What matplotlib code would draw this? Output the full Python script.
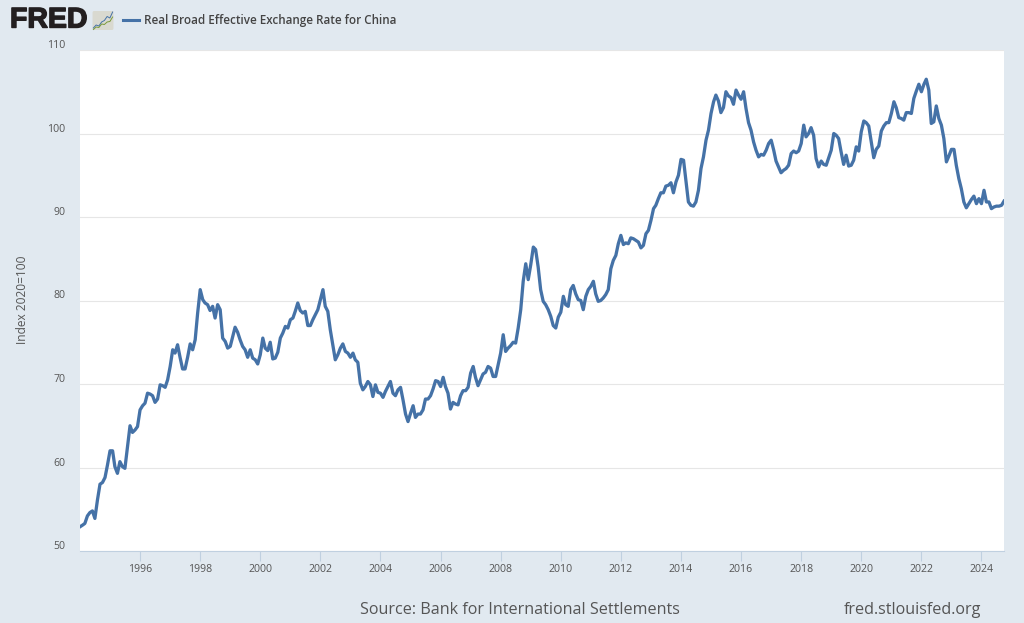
import matplotlib
matplotlib.use("Agg")
import matplotlib.pyplot as plt
import matplotlib.dates as mdates
import matplotlib.patheffects as pe
from matplotlib.patches import FancyBboxPatch
from matplotlib.transforms import ScaledTranslation
from matplotlib.lines import Line2D
import pandas as pd

plt.rcParams['font.family'] = ['Open Sans', 'DejaVu Sans']

START_MONTH = '1994-01-01'
values = [
    52.9, 53.1, 53.3, 54.2, 54.6, 54.8, 53.9, 56.1, 58.0, 58.2, 58.8, 60.3,
    62.0, 62.0, 60.1, 59.3, 60.7, 60.1, 59.9, 62.5, 65.0, 64.2, 64.5, 64.9,
    66.9, 67.4, 67.7, 68.9, 68.8, 68.6, 67.8, 68.2, 69.9, 69.8, 69.6, 70.5,
    72.1, 74.1, 73.7, 74.7, 73.2, 71.8, 71.8, 73.2, 74.8, 74.1, 75.3, 78.5,
    81.3, 80.1, 79.7, 79.5, 78.8, 79.3, 77.9, 79.5, 78.9, 75.5, 75.1, 74.3,
    74.5, 75.7, 76.8, 76.2, 75.3, 74.5, 74.1, 73.2, 74.1, 73.1, 72.9, 72.4,
    73.5, 75.5, 74.3, 74.0, 75.0, 73.0, 73.1, 73.8, 75.5, 76.1, 76.9, 76.7,
    77.7, 77.9, 78.7, 79.7, 78.8, 78.5, 78.7, 77.0, 77.0, 77.7, 78.3, 78.9,
    80.1, 81.3, 79.3, 78.7, 76.5, 74.7, 72.9, 73.5, 74.3, 74.8, 73.9, 73.7,
    73.2, 73.7, 72.9, 72.6, 70.1, 69.3, 69.7, 70.3, 69.9, 68.5, 69.9, 69.0,
    68.9, 68.4, 69.1, 69.7, 70.3, 68.9, 68.6, 69.3, 69.6, 68.1, 66.4, 65.5,
    66.5, 67.4, 66.0, 66.4, 66.4, 66.9, 68.2, 68.2, 68.6, 69.4, 70.4, 70.3,
    69.7, 70.8, 69.7, 68.9, 67.0, 67.8, 67.6, 67.5, 68.6, 69.2, 69.2, 69.6,
    71.3, 72.1, 70.8, 69.8, 70.5, 71.2, 71.4, 72.1, 71.9, 70.9, 70.9, 72.3,
    73.7, 75.9, 73.9, 74.3, 74.6, 75.0, 74.9, 76.7, 78.9, 82.3, 84.4, 82.5,
    84.3, 86.4, 86.1, 84.0, 81.3, 79.9, 79.5, 78.9, 78.1, 77.0, 76.7, 78.0,
    78.6, 80.5, 79.5, 79.3, 81.3, 81.8, 80.8, 80.1, 80.0, 78.9, 80.5, 81.3,
    81.7, 82.3, 80.8, 79.9, 80.0, 80.3, 80.7, 81.3, 83.8, 84.8, 85.4, 86.8,
    87.8, 86.7, 86.9, 86.8, 87.5, 87.4, 87.2, 87.0, 86.3, 86.6, 88.0, 88.4,
    89.6, 91.0, 91.4, 92.2, 92.9, 92.9, 93.7, 93.8, 94.1, 92.9, 94.2, 95.0,
    96.9, 96.8, 94.4, 91.8, 91.4, 91.3, 91.8, 93.2, 95.8, 97.2, 99.2, 100.4,
    102.4, 103.8, 104.6, 103.9, 102.5, 103.1, 105.0, 104.5, 104.3, 103.5, 105.2, 104.6,
    104.1, 105.0, 103.0, 101.3, 100.4, 99.0, 98.0, 97.2, 97.5, 97.4, 98.0, 98.8,
    99.2, 98.0, 96.7, 96.0, 95.3, 95.6, 95.8, 96.2, 97.6, 97.9, 97.7, 97.9,
    98.8, 101.0, 99.6, 100.0, 100.7, 99.8, 97.0, 96.0, 96.7, 96.3, 96.2, 97.1,
    98.0, 100.0, 99.8, 99.4, 97.8, 96.3, 97.4, 96.1, 96.2, 96.8, 98.4, 97.9,
    100.2, 101.5, 101.3, 100.9, 99.0, 97.1, 98.1, 98.5, 100.3, 100.9, 101.3, 101.3,
    102.4, 103.8, 103.1, 101.9, 101.8, 101.6, 102.5, 102.5, 102.4, 104.2, 105.1, 105.9,
    105.0, 105.9, 106.5, 105.2, 101.2, 101.4, 103.3, 101.8, 101.0, 99.4, 96.6, 97.3,
    98.1, 98.1, 96.2, 94.6, 93.4, 91.8, 91.1, 91.6, 92.1, 92.5, 91.6, 92.2,
    91.6, 93.2, 91.8, 91.8, 91.0, 91.2, 91.3, 91.3, 91.4, 91.9,
]
y_ticks = [50, 60, 70, 80, 90, 100, 110]
x_tick_years = list(range(1996, 2025, 2))
series_name = 'Real Broad Effective Exchange Rate for China'
y_label = 'Index 2020=100'
source_text = 'Source: Bank for International Settlements'
site_text = 'fred.stlouisfed.org'
logo_text = 'FRED'
logo_blue = [1.0, 2.2, 1.8, 3.4, 4.0, 5.6, 5.0, 7.4]
logo_green = [0.4, 1.4, 1.2, 2.6, 2.4, 3.4, 3.6, 5.4]

BG = '#e1e9f0'
LINE = '#4572a7'
TXT = '#555555'
W, H = 1024, 623

fig = plt.figure(figsize=(W / 100, H / 100), dpi=100, facecolor=BG)
ax = fig.add_axes([80 / W, (H - 551) / H, 924 / W, 501 / H], facecolor='white')

dates = pd.date_range(START_MONTH, periods=len(values), freq='MS')
ax.plot(dates, values, color=LINE, lw=2.35, solid_joinstyle='round', clip_on=True, zorder=3)
ax.set_xlim(dates[0], dates[-1])
ax.set_ylim(50, 110)

for s in ['top', 'right', 'left']:
    ax.spines[s].set_visible(False)
ax.spines['bottom'].set_color('#c0d0e0')
ax.spines['bottom'].set_linewidth(0.8)

ax.set_yticks(y_ticks)
ax.grid(axis='y', color='#e6e6e6', lw=0.8)
ax.set_axisbelow(True)
ax.tick_params(axis='y', length=0, pad=10.8, labelsize=7.6, labelcolor=TXT)
ax.set_xticks([pd.Timestamp(f'{y}-01-01') for y in x_tick_years])
ax.xaxis.set_major_formatter(mdates.DateFormatter('%Y'))
ax.tick_params(axis='x', length=7, width=0.8, color='#c0d0e0', pad=2.5, labelsize=7.6, labelcolor=TXT)

offset = ScaledTranslation(0, 6 / 100, fig.dpi_scale_trans)
for lab in ax.get_yticklabels():
    lab.set_transform(lab.get_transform() + offset)

fig.text(22.5 / W, 1 - 300 / H, y_label, rotation=90, ha='center', va='center', fontsize=8.6, color=TXT)
fig.text(360 / W, 1 - 610.5 / H, source_text, ha='left', va='center', fontsize=11.6, color=TXT)
fig.text(981 / W, 1 - 610.5 / H, site_text, ha='right', va='center', fontsize=11.6, color=TXT)

# header: logo and legend
fig.text(10 / W, 1 - 20.5 / H, logo_text, ha='left', va='center', fontsize=20.5, fontweight='bold',
         family=['Liberation Sans', 'DejaVu Sans'], color='#231f20',
         path_effects=[pe.withStroke(linewidth=1.0, foreground='#231f20')])
fig.add_artist(Line2D([123 / W, 139 / W], [1 - 20 / H, 1 - 20 / H], color=LINE, lw=2.2))
fig.text(144 / W, 1 - 20.5 / H, series_name, ha='left', va='center', fontsize=8.4, fontweight='semibold', color='#444444')

icon = fig.add_axes([92 / W, 1 - 30.5 / H, 22 / W, 20 / H])
icon.axis('off')
icon.set_xlim(-0.5, 7.5)
icon.set_ylim(0, 8)
icon.add_patch(FancyBboxPatch((-0.3, 0.2), 7.6, 7.6, boxstyle='round,pad=0,rounding_size=0.6',
                              fc='#d9d9d0', ec='none'))
icon.plot(range(8), logo_blue, color='#4572a7', lw=0.7)
icon.plot(range(8), logo_green, color='#7a9a3a', lw=0.7)

fig.savefig('out.png', dpi=100, facecolor=BG)
